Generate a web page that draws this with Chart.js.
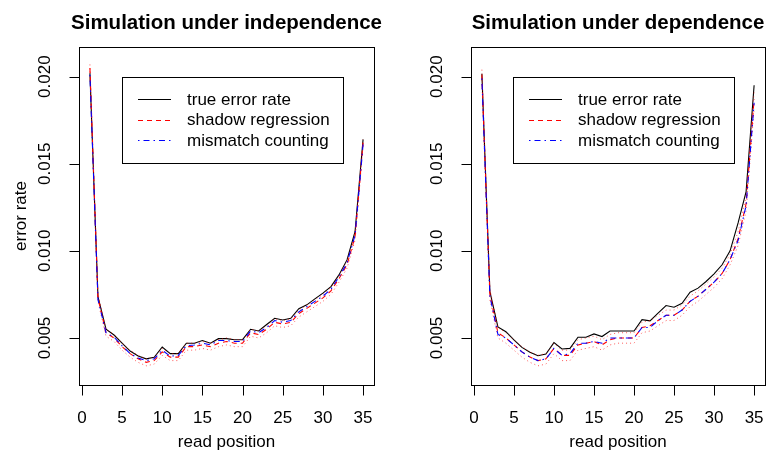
<!DOCTYPE html>
<html>
<head>
<meta charset="utf-8">
<script src="https://cdn.jsdelivr.net/npm/chart.js@4"></script>
<style>
  body { margin: 0; background: #fff; }
  #wrap { position: relative; width: 768px; height: 452px; }
  canvas { position: absolute; top: 0; }
</style>
</head>
<body>
<div id="wrap">
  <canvas id="indepChart" width="384" height="452" style="left:0"></canvas>
  <canvas id="depChart" width="384" height="452" style="left:384px"></canvas>
</div>
<script>
// read positions 1..35
const readPositions = [1,2,3,4,5,6,7,8,9,10,11,12,13,14,15,16,17,18,19,20,21,22,23,24,25,26,27,28,29,30,31,32,33,34,35];
const xTicks = [0, 5, 10, 15, 20, 25, 30, 35];
const yTicks = [0.005, 0.010, 0.015, 0.020];
const yTickLabels = ['0.005', '0.010', '0.015', '0.020'];
const legendLabels = ['true error rate', 'shadow regression', 'mismatch counting'];

// Simulation under independence
const indepTrue = [0.0202,0.00737,0.0055,0.00517,0.0047,0.00425,0.00397,0.0038,0.00389,0.00448,0.0041,0.0041,0.0047,0.0047,0.00485,0.0047,0.00496,0.00496,0.0049,0.0049,0.0055,0.0054,0.00577,0.00613,0.00603,0.00613,0.00668,0.0069,0.00724,0.00757,0.00795,0.00862,0.00948,0.0111,0.0164];
const indepShadow = [0.0205,0.0073,0.0053,0.005,0.0045,0.0041,0.0038,0.0036,0.0037,0.0042,0.0039,0.0039,0.0045,0.0045,0.0046,0.0045,0.0047,0.0048,0.0047,0.0047,0.0053,0.0052,0.0055,0.0059,0.0058,0.0059,0.0064,0.0067,0.007,0.0073,0.0077,0.0084,0.0092,0.0108,0.0162];
const indepShadowLow = [0.0203,0.0071,0.0051,0.0048,0.0043,0.0039,0.0036,0.0034,0.0035,0.004,0.0037,0.0037,0.0043,0.0043,0.0044,0.0043,0.0045,0.0046,0.0045,0.0045,0.0051,0.005,0.0053,0.0057,0.0056,0.0057,0.0062,0.0065,0.0068,0.0071,0.0075,0.0082,0.009,0.0106,0.016];
const indepShadowHigh = [0.0207,0.0075,0.0055,0.0052,0.0047,0.0043,0.004,0.0038,0.0039,0.0044,0.0041,0.0041,0.0047,0.0047,0.0048,0.0047,0.0049,0.005,0.0049,0.0049,0.0055,0.0054,0.0057,0.0061,0.006,0.0061,0.0066,0.0069,0.0072,0.0075,0.0079,0.0086,0.0094,0.011,0.0164];
const indepMismatch = [0.0201,0.0072,0.0053,0.00505,0.00455,0.0041,0.00385,0.0037,0.0038,0.0043,0.00395,0.004,0.00455,0.0046,0.0047,0.0046,0.00485,0.00485,0.0048,0.0048,0.0054,0.0053,0.0056,0.006,0.0059,0.006,0.0065,0.0068,0.0071,0.0074,0.0078,0.0085,0.0093,0.0109,0.0161];

// Simulation under dependence
const depTrue = [0.02016,0.00766,0.00563,0.00536,0.00489,0.00446,0.00418,0.00398,0.00408,0.00473,0.00437,0.0044,0.00504,0.00504,0.00523,0.00508,0.0054,0.0054,0.0054,0.0054,0.00605,0.00598,0.00642,0.00686,0.00676,0.00699,0.00763,0.00786,0.00824,0.00868,0.0092,0.01,0.0116,0.0134,0.0195];
const depShadow = [0.0201,0.0075,0.0053,0.005,0.0046,0.0042,0.0039,0.0037,0.0038,0.0044,0.004,0.004,0.0046,0.0047,0.0048,0.0046,0.0049,0.005,0.005,0.005,0.0056,0.0057,0.006,0.0063,0.0063,0.0066,0.0071,0.0074,0.0078,0.0082,0.0087,0.0095,0.0107,0.0127,0.0187];
const depShadowLow = [0.0198,0.0072,0.005,0.0047,0.0043,0.0039,0.0036,0.0034,0.0035,0.0041,0.0037,0.0037,0.0043,0.0044,0.0045,0.0043,0.0046,0.0047,0.0047,0.0047,0.0053,0.0054,0.0057,0.006,0.006,0.0063,0.0068,0.0071,0.0075,0.0079,0.0084,0.0092,0.0103,0.0123,0.0182];
const depShadowHigh = [0.0204,0.0078,0.0056,0.0053,0.0049,0.0045,0.0042,0.004,0.0041,0.0047,0.0043,0.0043,0.0049,0.005,0.0051,0.0049,0.0052,0.0053,0.0053,0.0053,0.0059,0.006,0.0063,0.0066,0.0066,0.0069,0.0074,0.0077,0.0081,0.0085,0.009,0.0098,0.0111,0.0131,0.0192];
const depMismatch = [0.0199,0.0074,0.0052,0.005,0.0046,0.0042,0.0039,0.0037,0.0038,0.0044,0.004,0.0041,0.0047,0.0047,0.0048,0.0047,0.005,0.005,0.005,0.005,0.0056,0.0056,0.006,0.0063,0.0063,0.0066,0.0071,0.0074,0.0078,0.0082,0.0087,0.0095,0.0106,0.0126,0.0185];

const FONT = '"Liberation Sans", Arial, Helvetica, sans-serif';

// line styles shared by plot and legend
const styles = [
    { color: '#000000', dash: [], width: 1.1 },
    { color: '#ff0000', dash: [5, 4], width: 1.1 },
    { color: '#0000ff', dash: [1.5, 4, 6, 4], width: 1.1 }
];

function toPoints(values) {
    return values.map((v, i) => ({ x: readPositions[i], y: v }));
}

function makeDatasets(trueVals, shadowVals, lowVals, highVals, mismatchVals) {
    const base = { pointRadius: 0, tension: 0, fill: false };
    return [
        { ...base, data: toPoints(mismatchVals), borderColor: styles[2].color, borderDash: styles[2].dash, borderWidth: styles[2].width, order: 0 },
        { ...base, data: toPoints(shadowVals), borderColor: styles[1].color, borderDash: styles[1].dash, borderWidth: styles[1].width, order: 1 },
        { ...base, data: toPoints(lowVals), borderColor: 'rgba(255,0,0,0.65)', borderDash: [1, 3], borderWidth: 1, order: 2 },
        { ...base, data: toPoints(highVals), borderColor: 'rgba(255,0,0,0.65)', borderDash: [1, 3], borderWidth: 1, order: 2 },
        { ...base, data: toPoints(trueVals), borderColor: styles[0].color, borderDash: styles[0].dash, borderWidth: styles[0].width, order: 3 }
    ];
}

// R-style frame, axes, title and legend
const rStyle = {
    id: 'rStyle',
    afterDraw(chart, args, opts) {
        const ctx = chart.ctx;
        const a = chart.chartArea;
        const xs = chart.scales.x, ys = chart.scales.y;
        ctx.save();
        ctx.strokeStyle = '#000';
        ctx.fillStyle = '#000';
        ctx.lineWidth = 1;
        ctx.setLineDash([]);

        // box
        ctx.strokeRect(Math.round(a.left) + 0.5, Math.round(a.top) + 0.5,
            Math.round(a.right - a.left), Math.round(a.bottom - a.top));

        // x axis
        const by = Math.round(a.bottom) + 0.5;
        ctx.beginPath();
        ctx.moveTo(Math.round(xs.getPixelForValue(xTicks[0])) + 0.5, by);
        ctx.lineTo(Math.round(xs.getPixelForValue(xTicks[xTicks.length - 1])) + 0.5, by);
        xTicks.forEach(t => {
            const px = Math.round(xs.getPixelForValue(t)) + 0.5;
            ctx.moveTo(px, by);
            ctx.lineTo(px, by + 10);
        });
        // y axis
        const lx = Math.round(a.left) + 0.5;
        ctx.moveTo(lx, Math.round(ys.getPixelForValue(yTicks[0])) + 0.5);
        ctx.lineTo(lx, Math.round(ys.getPixelForValue(yTicks[yTicks.length - 1])) + 0.5);
        yTicks.forEach(t => {
            const py = Math.round(ys.getPixelForValue(t)) + 0.5;
            ctx.moveTo(lx, py);
            ctx.lineTo(lx - 10, py);
        });
        ctx.stroke();

        ctx.font = '17px ' + FONT;
        ctx.textAlign = 'center';
        ctx.textBaseline = 'middle';
        xTicks.forEach(t => ctx.fillText(String(t), xs.getPixelForValue(t), a.bottom + 33));
        ctx.fillText('read position', (a.left + a.right) / 2, a.bottom + 57);

        yTicks.forEach((t, i) => {
            ctx.save();
            ctx.translate(a.left - 34, ys.getPixelForValue(t));
            ctx.rotate(-Math.PI / 2);
            ctx.fillText(yTickLabels[i], 0, 0);
            ctx.restore();
        });
        if (opts.ylab) {
            ctx.save();
            ctx.translate(a.left - 58, (a.top + a.bottom) / 2);
            ctx.rotate(-Math.PI / 2);
            ctx.fillText(opts.ylab, 0, 0);
            ctx.restore();
        }

        // title
        ctx.font = 'bold 20.5px ' + FONT;
        ctx.fillText(opts.title, (a.left + a.right) / 2, 23);

        // legend
        const lg = opts.legend;
        ctx.strokeRect(Math.round(lg.x) + 0.5, Math.round(lg.y) + 0.5, lg.w, lg.h);
        ctx.font = '17px ' + FONT;
        ctx.textAlign = 'left';
        legendLabels.forEach((label, i) => {
            const y = lg.y + 22 + i * 20.7;
            ctx.beginPath();
            ctx.strokeStyle = styles[i].color;
            ctx.lineWidth = styles[i].width;
            ctx.setLineDash(styles[i].dash);
            ctx.moveTo(lg.x + 16, Math.round(y) + 0.5);
            ctx.lineTo(lg.x + 49, Math.round(y) + 0.5);
            ctx.stroke();
            ctx.fillText(label, lg.x + 65, y + 1);
        });
        ctx.restore();
    }
};

function makeChart(id, datasets, padding, title, ylab, legendPos) {
    const ctx = document.getElementById(id).getContext('2d');
    return new Chart(ctx, {
        type: 'line',
        data: { datasets: datasets },
        options: {
            responsive: false,
            animation: false,
            devicePixelRatio: 1,
            layout: { padding: padding },
            plugins: {
                legend: { display: false },
                tooltip: { enabled: false },
                rStyle: { title: title, ylab: ylab, legend: legendPos }
            },
            scales: {
                x: {
                    type: 'linear', min: -0.36, max: 36.36,
                    ticks: { display: false }, grid: { display: false }, border: { display: false },
                    afterFit: s => { s.height = 0; }
                },
                y: {
                    type: 'linear', min: 0.0023, max: 0.0217,
                    ticks: { display: false }, grid: { display: false }, border: { display: false },
                    afterFit: s => { s.width = 0; }
                }
            }
        },
        plugins: [rStyle]
    });
}

makeChart('indepChart',
    makeDatasets(indepTrue, indepShadow, indepShadowLow, indepShadowHigh, indepMismatch),
    { left: 79, right: 10, top: 47, bottom: 67 },
    'Simulation under independence', 'error rate',
    { x: 122, y: 77, w: 221, h: 86 });

makeChart('depChart',
    makeDatasets(depTrue, depShadow, depShadowLow, depShadowHigh, depMismatch),
    { left: 87, right: 3, top: 47, bottom: 67 },
    'Simulation under dependence', null,
    { x: 129, y: 77, w: 221, h: 86 });
</script>
</body>
</html>
